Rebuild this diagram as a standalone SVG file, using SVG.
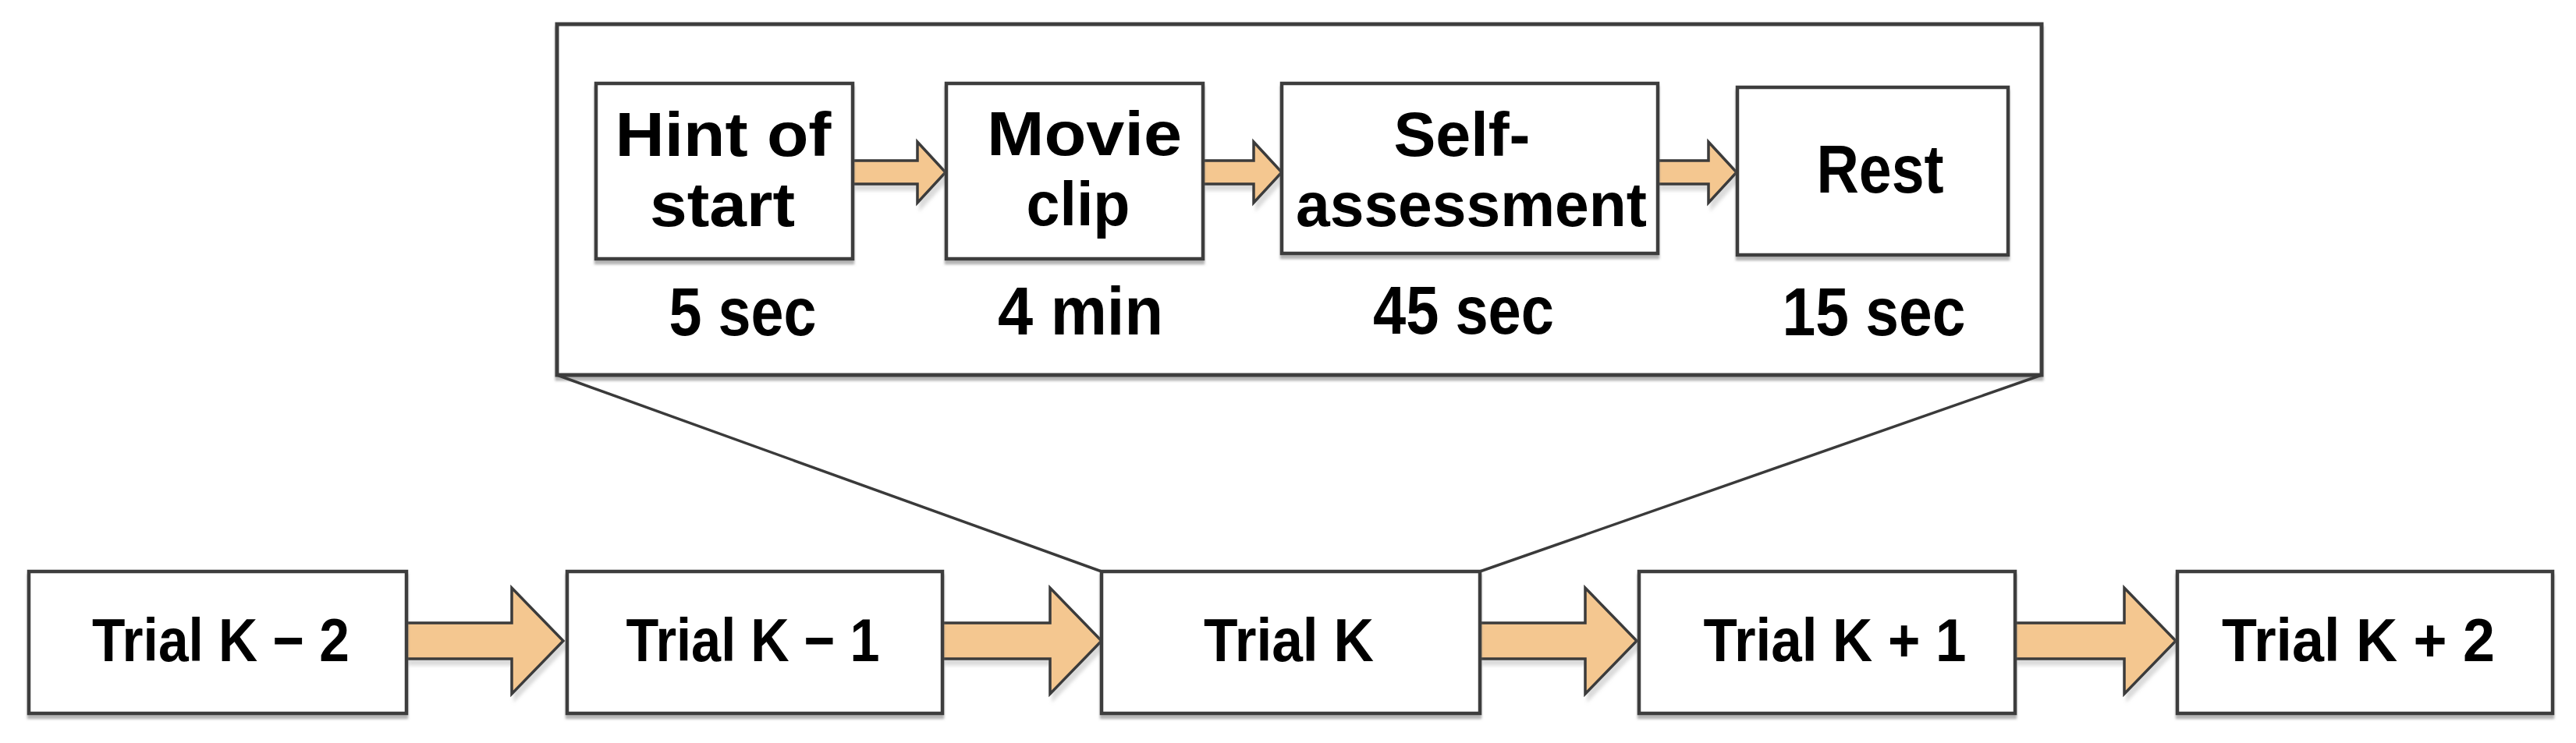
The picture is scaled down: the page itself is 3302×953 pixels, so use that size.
<svg xmlns="http://www.w3.org/2000/svg" width="3302" height="953" viewBox="0 0 3302 953">
<style>
.box{fill:#fff;stroke:#3d3d3d;stroke-width:4.5;filter:url(#sh)}
.frame{fill:#fff;stroke:#3d3d3d;stroke-width:5;filter:url(#sh)}
.arr{fill:#F4C790;stroke:#3a3a3a;stroke-width:3.5;stroke-linejoin:miter;filter:url(#sh2)}
.ln{fill:none;stroke:#3a3a3a;stroke-width:3.5}
text{font-family:"Liberation Sans",Arial,sans-serif;font-weight:bold;fill:#000;text-anchor:middle}
.t1{font-size:87px}
.t3{font-size:80px}
.t2{font-size:78px}
</style>
<defs>
<filter id="sh" x="-5%" y="-5%" width="110%" height="115%">
<feDropShadow dx="0" dy="5" stdDeviation="1.5" flood-color="#777" flood-opacity="0.55"/>
</filter>
<filter id="sh2" x="-10%" y="-10%" width="125%" height="130%">
<feDropShadow dx="4" dy="7" stdDeviation="2" flood-color="#999" flood-opacity="0.35"/>
</filter>
</defs>
<rect width="3302" height="953" fill="#fff"/>

<g id="trial-detail">
<rect class="frame" x="714" y="31" width="1903" height="450"/>
</g>

<g id="connectors">
<line class="ln" x1="714" y1="481" x2="1412" y2="733"/>
<line class="ln" x1="2617" y1="481" x2="1897" y2="733"/>
<polygon class="arr" points="1093,206 1176,206 1176,182 1212,221 1176,260 1176,236 1093,236"/>
<polygon class="arr" points="1542,206 1607,206 1607,182 1643,221 1607,260 1607,236 1542,236"/>
<polygon class="arr" points="2125,206 2190,206 2190,182 2226,221 2190,260 2190,236 2125,236"/>
<polygon class="arr" points="521,799 656,799 656,754 722,822 656,890 656,845 521,845"/>
<polygon class="arr" points="1208,799 1346,799 1346,754 1412,822 1346,890 1346,845 1208,845"/>
<polygon class="arr" points="1897,799 2032,799 2032,754 2098,822 2032,890 2032,845 1897,845"/>
<polygon class="arr" points="2583,799 2723,799 2723,754 2789,822 2723,890 2723,845 2583,845"/>
</g>

<g id="hint">
<rect class="box" x="764" y="107" width="329" height="225"/>
<text class="t3" x="927" y="200" textLength="277" lengthAdjust="spacingAndGlyphs">Hint of</text>
<text class="t3" x="926" y="290" textLength="186" lengthAdjust="spacingAndGlyphs">start</text>
<text class="t1" x="952" y="430" textLength="189" lengthAdjust="spacingAndGlyphs">5 sec</text>
</g>

<g id="movie">
<rect class="box" x="1213" y="107" width="329" height="225"/>
<text class="t3" x="1390" y="199" textLength="250" lengthAdjust="spacingAndGlyphs">Movie</text>
<text class="t3" x="1382" y="289" textLength="133" lengthAdjust="spacingAndGlyphs">clip</text>
<text class="t1" x="1385" y="429" textLength="212" lengthAdjust="spacingAndGlyphs">4 min</text>
</g>

<g id="self">
<rect class="box" x="1643" y="107" width="482" height="218"/>
<text class="t3" x="1874" y="200" textLength="175" lengthAdjust="spacingAndGlyphs">Self-</text>
<text class="t3" x="1886" y="290" textLength="450" lengthAdjust="spacingAndGlyphs">assessment</text>
<text class="t1" x="1876" y="428" textLength="232" lengthAdjust="spacingAndGlyphs">45 sec</text>
</g>

<g id="rest">
<rect class="box" x="2227" y="112" width="347" height="215"/>
<text class="t1" x="2410" y="247" textLength="163" lengthAdjust="spacingAndGlyphs">Rest</text>
<text class="t1" x="2402" y="430" textLength="235" lengthAdjust="spacingAndGlyphs">15 sec</text>
</g>

<g id="trial-k-2">
<rect class="box" x="37" y="733" width="484" height="182"/>
<text class="t2" x="283" y="848" textLength="330" lengthAdjust="spacingAndGlyphs">Trial K − 2</text>
</g>
<g id="trial-k-1">
<rect class="box" x="727" y="733" width="481" height="182"/>
<text class="t2" x="965" y="848" textLength="325" lengthAdjust="spacingAndGlyphs">Trial K − 1</text>
</g>
<g id="trial-k">
<rect class="box" x="1412" y="733" width="485" height="182"/>
<text class="t2" x="1652" y="848" textLength="218" lengthAdjust="spacingAndGlyphs">Trial K</text>
</g>
<g id="trial-k+1">
<rect class="box" x="2101" y="733" width="482" height="182"/>
<text class="t2" x="2352" y="848" textLength="337" lengthAdjust="spacingAndGlyphs">Trial K + 1</text>
</g>
<g id="trial-k+2">
<rect class="box" x="2791" y="733" width="481" height="182"/>
<text class="t2" x="3023" y="848" textLength="350" lengthAdjust="spacingAndGlyphs">Trial K + 2</text>
</g>
</svg>
